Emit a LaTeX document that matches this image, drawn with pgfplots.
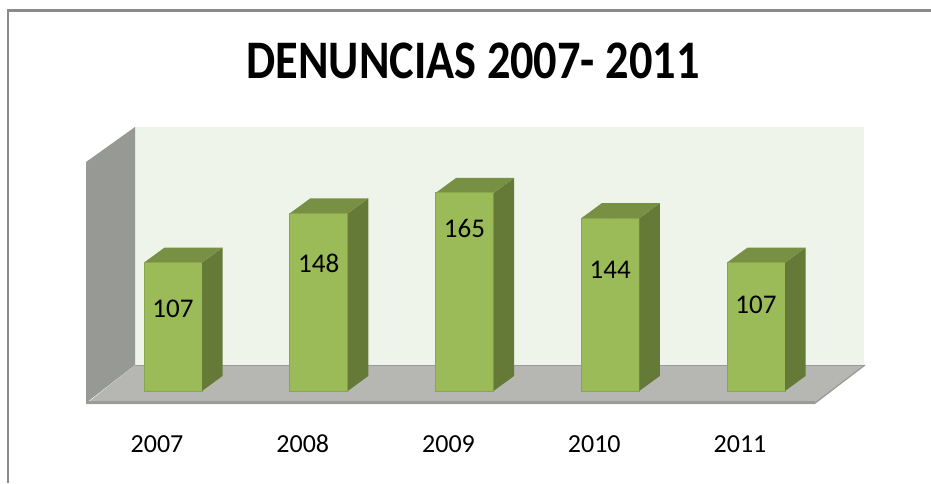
\documentclass[border=0pt]{standalone}
\usepackage{graphicx}
\usepackage{fontspec}
\setmainfont{Carlito}
\usepackage{pgfplots}
\usepackage{pgfplotstable}
\pgfplotsset{compat=1.18}

\definecolor{frontcol}{HTML}{9BBB59}
\definecolor{frontedge}{HTML}{89A64F}
\definecolor{sidecol}{HTML}{657A37}
\definecolor{topcol}{HTML}{789043}
\definecolor{backwall}{HTML}{EFF4EA}
\definecolor{leftwall}{HTML}{979995}
\definecolor{floorc}{HTML}{B6B7B3}
\definecolor{flooredge}{HTML}{9A9B98}
\definecolor{framec}{HTML}{8A8A8A}

% x = category index, v = value, ly = height of the value label
\pgfplotstableread{
x v   ly
0 107 68.3
1 148 106.7
2 165 135.8
3 144 100.8
4 107 71.7
}\datatable

\begin{document}
\begin{tikzpicture}
\useasboundingbox (0,0) rectangle (465.5pt,241.5pt);
% ---- decoration in pixel units (1px = 0.5pt), y downwards
\begin{scope}[x=0.5pt,y=-0.5pt,yshift=241.5pt]
  \fill[backwall] (135,127) rectangle (864,365);
  \fill[leftwall] (86,162) -- (135,127) -- (135,365) -- (86,403) -- cycle;
  \fill[floorc] (86,404) -- (135,365) -- (865,365) -- (815,404) -- cycle;
  \draw[flooredge, line width=0.6pt] (135,365.5) -- (864,365.5);
  \draw[flooredge, line width=1.5pt] (86,402.5) -- (815,402.5);
  \draw[flooredge, line width=0.6pt] (815,403) -- (865,365);
  \node[inner sep=0pt] at (473,60.5)
    {\resizebox{226.5pt}{17.8pt}{\bfseries DENUNCIAS 2007- 2011}};
\end{scope}

\begin{axis}[
  at={(0,0)}, anchor=south west,
  scale only axis, width=465.5pt, height=241.5pt,
  xmin=-1.18696, xmax=5.20069,
  ymin=-76.6667, ymax=325.8333,
  clip=false,
  axis line style={draw=none},
  major tick length=0pt,
  ytick=\empty,
  xtick={0,1,2,3,4},
  xtick pos=bottom,
  xticklabels={2007,2008,2009,2010,2011},
  xticklabel style={anchor=base, xshift=-8pt, yshift=15.5pt,
     font=\fontsize{13pt}{13pt}\selectfont},
  /pgf/number format/assume math mode=true,
]
% front faces
\addplot[ybar, bar width=29pt, fill=frontcol, draw=frontedge, line width=0.5pt]
  table[x=x, y=v] {\datatable};
% side and top faces, drawn at each bar's top
\addplot[scatter, only marks, mark=*, mark size=0pt,
  mark options={draw=none, fill=none},
  visualization depends on={\thisrow{v} \as \barv},
  scatter/@pre marker code/.code={%
    \pgfmathsetlengthmacro\H{\barv*0.6pt}%
    \path[fill=sidecol, draw=none] (14.5pt,0pt) -- (24.75pt,7.5pt)
        -- (24.75pt,7.5pt-\H) -- (14.5pt,-\H) -- cycle;
    \path[fill=topcol, draw=none] (-14.5pt,0pt) -- (-4.25pt,7.5pt)
        -- (24.75pt,7.5pt) -- (14.5pt,0pt) -- cycle;
    \draw[frontedge, line width=0.5pt] (-14.5pt,0pt) -- (14.5pt,0pt);
  },
  scatter/@post marker code/.code={}
] table[x=x, y=v] {\datatable};
% value labels
\addplot[draw=none, mark=none, nodes near coords, point meta=explicit,
  every node near coord/.append style={anchor=center,
     font=\fontsize{13.5pt}{13.5pt}\selectfont, text=black}]
  table[x=x, y=ly, meta=v] {\datatable};
\end{axis}

% ---- frame of the chart area, drawn last
\begin{scope}[x=0.5pt,y=-0.5pt,yshift=241.5pt]
  \fill[white] (912,12) rectangle (931,60);
  \fill[framec] (7.3,9.2) rectangle (931,11.8);
  \fill[framec] (7.3,9.2) rectangle (9.3,483);
\end{scope}
\end{tikzpicture}
\end{document}
